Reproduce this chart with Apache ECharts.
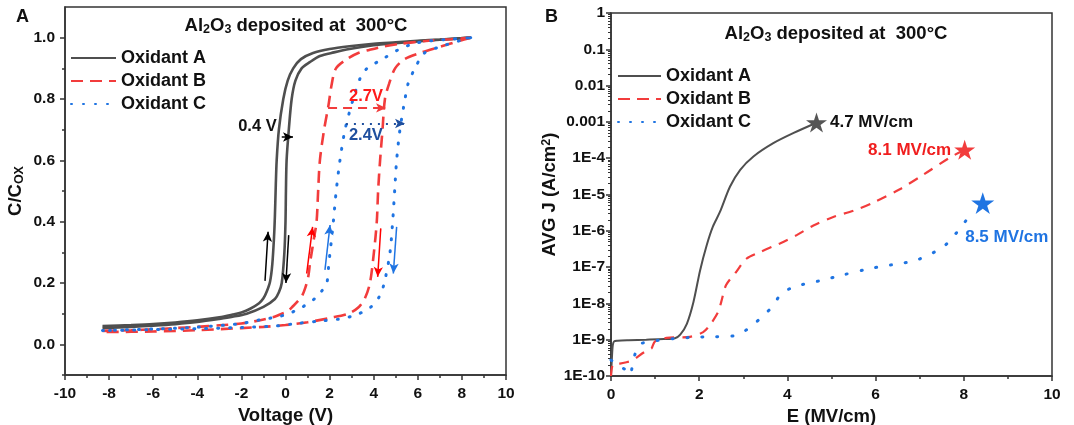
<!DOCTYPE html>
<html>
<head>
<meta charset="utf-8">
<script src="https://cdn.jsdelivr.net/npm/echarts@6/dist/echarts.min.js"></script>
<style>
  html, body { margin: 0; padding: 0; background: #fff; }
  #chart { width: 1074px; height: 425px; }
</style>
</head>
<body>
<div id="chart"></div>
<script>
// ---- panel A: C-V hysteresis, [voltage, C/Cox] ----
const oxA_up = [[-8.3,0.060],[-7,0.063],[-6,0.066],[-5,0.071],[-4,0.078],[-3,0.088],[-2.4,0.097],[-2,0.104],[-1.6,0.116],[-1.2,0.134],[-1.0,0.15],[-0.85,0.172],[-0.7,0.205],[-0.6,0.26],[-0.52,0.35],[-0.48,0.42],[-0.44,0.52],[-0.4,0.6],[-0.3,0.7],[-0.1,0.8],[0.1,0.86],[0.35,0.9],[0.7,0.93],[1.25,0.95],[2,0.963],[2.9,0.972],[4,0.98],[5,0.985],[6,0.99],[7,0.994],[8.4,1.0]];
const oxA_down = [[8.4,1.0],[7,0.993],[6,0.988],[5,0.982],[4,0.975],[2.9,0.963],[2.2,0.952],[1.56,0.94],[1.1,0.92],[0.73,0.9],[0.45,0.86],[0.28,0.8],[0.15,0.7],[0.05,0.6],[0.02,0.5],[0.0,0.4],[-0.05,0.3],[-0.17,0.2],[-0.3,0.17],[-0.48,0.148],[-1.0,0.122],[-1.76,0.1],[-2.4,0.09],[-3,0.083],[-4,0.073],[-5,0.066],[-6,0.061],[-7,0.057],[-8.3,0.053]];
const oxB_up = [[-8.3,0.044],[-7,0.046],[-6,0.049],[-5,0.053],[-4,0.057],[-3,0.062],[-2,0.068],[-1.2,0.078],[-0.5,0.09],[-0.17,0.1],[0.1,0.108],[0.35,0.125],[0.55,0.14],[0.73,0.155],[0.9,0.185],[1.03,0.22],[1.12,0.27],[1.19,0.3],[1.3,0.35],[1.41,0.4],[1.48,0.5],[1.56,0.6],[1.75,0.7],[1.95,0.78],[2.1,0.85],[2.29,0.9],[2.78,0.93],[3.3,0.95],[3.8,0.96],[4.5,0.972],[5.2,0.98],[6.5,0.99],[7.5,0.995],[8.4,1.0]];
const oxB_down = [[8.4,1.0],[7.9,0.99],[7,0.97],[6.1,0.95],[5.4,0.93],[4.97,0.9],[4.7,0.85],[4.51,0.8],[4.4,0.7],[4.29,0.6],[4.2,0.5],[4.14,0.4],[4.01,0.3],[3.83,0.2],[3.6,0.15],[3.3,0.12],[2.85,0.1],[2.0,0.086],[1.0,0.072],[0,0.063],[-1,0.057],[-2,0.053],[-4,0.046],[-6,0.042],[-8.3,0.04]];
const oxC_up = [[-8.3,0.045],[-6,0.05],[-4,0.056],[-2,0.068],[-1.16,0.08],[-0.5,0.088],[0.05,0.097],[0.4,0.108],[0.73,0.12],[1.05,0.135],[1.34,0.15],[1.6,0.17],[1.87,0.2],[1.95,0.25],[2.02,0.3],[2.1,0.35],[2.17,0.4],[2.3,0.5],[2.47,0.6],[2.7,0.7],[3.07,0.8],[3.4,0.87],[3.7,0.9],[4.4,0.93],[5.1,0.96],[5.8,0.98],[6.6,0.99],[7.5,0.995],[8.4,1.0]];
const oxC_down = [[8.4,1.0],[7.9,0.99],[7.0,0.97],[6.3,0.95],[5.87,0.9],[5.56,0.85],[5.42,0.8],[5.19,0.7],[5.04,0.6],[4.95,0.5],[4.86,0.4],[4.74,0.3],[4.51,0.21],[4.29,0.16],[3.83,0.119],[3.15,0.095],[2.4,0.082],[1.71,0.077],[0.5,0.068],[-0.4,0.06],[-2,0.055],[-4,0.051],[-6,0.048],[-8.3,0.045]];
const cTicks = [0, 0.2, 0.4, 0.6, 0.8, 1.0];
const cMinorTicks = [-0.1, 0.1, 0.3, 0.5, 0.7, 0.9];

// ---- panel B: leakage current, E (MV/cm) vs J (A/cm2) ----
const eA = [0, 0.02, 0.04, 0.07, 0.15, 0.4, 0.8, 1.2, 1.45, 1.57, 1.72, 1.87, 2.02, 2.17, 2.31, 2.47, 2.7, 2.93, 3.23, 3.68, 4.13, 4.66];
const jA = [1e-10, 3e-10, 7e-10, 9e-10, 9.4e-10, 9.7e-10, 1.0e-9, 1.04e-9, 1.1e-9, 1.38e-9, 2.75e-9, 1.1e-8, 8.1e-8, 4.0e-7, 1.3e-6, 3.3e-6, 1.66e-5, 4.8e-5, 1.12e-4, 2.6e-4, 4.9e-4, 9.5e-4];
const eB = [0, 0.05, 0.2, 0.35, 0.5, 0.58, 0.75, 0.88, 0.92, 1.0, 1.26, 1.79, 2.09, 2.24, 2.43, 2.5, 2.61, 2.84, 3.07, 3.38, 3.83, 4.21, 4.59, 5.04, 5.5, 5.95, 6.55, 7.08, 7.69, 8.02];
const jB = [1e-10, 2.1e-10, 2.2e-10, 2.4e-10, 2.7e-10, 3.2e-10, 4.5e-10, 5.5e-10, 5.8e-10, 9.0e-10, 1.12e-9, 1.2e-9, 1.62e-9, 2.5e-9, 5.8e-9, 1.1e-8, 3.2e-8, 7.4e-8, 1.7e-7, 2.6e-7, 4.5e-7, 7.6e-7, 1.4e-6, 2.4e-6, 3.6e-6, 6.0e-6, 1.4e-5, 3.5e-5, 1.05e-4, 1.7e-4];
const eC = [0, 0.15, 0.32, 0.43, 0.5, 0.62, 0.75, 0.88, 1.19, 1.41, 1.9, 2.31, 2.84, 3.16, 3.46, 3.69, 3.83, 4.13, 4.81, 5.19, 5.87, 6.55, 6.93, 7.53, 7.8, 8.03, 8.24];
const jC = [2.75e-10, 2.0e-10, 1.5e-10, 1.07e-10, 2.5e-10, 7.1e-10, 8.3e-10, 8.9e-10, 1.0e-9, 1.07e-9, 1.17e-9, 1.2e-9, 1.32e-9, 2.24e-9, 4.7e-9, 8.9e-9, 1.66e-8, 2.8e-8, 4.4e-8, 5.8e-8, 9.1e-8, 1.26e-7, 1.55e-7, 3.6e-7, 7.9e-7, 1.78e-6, 3.8e-6];
const starE = [4.66, 8.02, 8.43];
const starJ = [9.6e-4, 1.7e-4, 5.8e-6];
const starLabels = ['4.7 MV/cm', '8.1 MV/cm', '8.5 MV/cm'];
const jTicks = [1e-10, 1e-9, 1e-8, 1e-7, 1e-6, 1e-5, 1e-4, 1e-3, 1e-2, 1e-1, 1];
const jTickLabels = ['1E-10', '1E-9', '1E-8', '1E-7', '1E-6', '1E-5', '1E-4', '0.001', '0.01', '0.1', '1'];
// minor log ticks 2..9 inside every decade
const jMinorTicks = [];
jTicks.slice(0, -1).forEach(d => { for (let k = 2; k <= 9; k++) jMinorTicks.push(+(k * d).toPrecision(3)); });

const names = ['Oxidant A', 'Oxidant B', 'Oxidant C'];
const GRAY = '#4f4f4f', RED = '#f23c3c', BLUE = '#1f74e2', DARKBLUE = '#1f4f9e';
const STAR = 'path://M50,0 L61.8,36.2 L100,36.2 L69.1,58.8 L80.9,95.1 L50,72.6 L19.1,95.1 L30.9,58.8 L0,36.2 L38.2,36.2 Z';

const zip = (xs, ys) => xs.map((x, i) => [x, ys[i]]);
const axisColor = '#333';
const tickFont = { fontSize: 15.5, fontWeight: 'bold', color: '#111', fontFamily: 'Liberation Sans' };
const nameFont = { fontSize: 18.5, fontWeight: 'bold', color: '#111', fontFamily: 'Liberation Sans' };
const axisLine = { show: true, onZero: false, lineStyle: { color: axisColor, width: 1.5 } };

// arrow helper for annotations (markLine item from two data coordinates)
function arrow(from, to, color, type, width, label) {
  return [
    { coord: from, lineStyle: { color: color, type: type || 'solid', width: width || 1.5 },
      label: label || { show: false } },
    { coord: to }
  ];
}

const styleA = {
  'Oxidant A': { color: GRAY, width: 2.6, type: 'solid', cap: 'butt' },
  'Oxidant B': { color: RED, width: 2.6, type: [12, 7], cap: 'butt' },
  'Oxidant C': { color: BLUE, width: 3, type: [1, 11], cap: 'round' }
};
const styleB = {
  'Oxidant A': { color: GRAY, width: 2, type: 'solid', cap: 'butt' },
  'Oxidant B': { color: RED, width: 2.2, type: [10, 8], cap: 'butt' },
  'Oxidant C': { color: BLUE, width: 3, type: [1, 14], cap: 'round' }
};

const boldLab = (txt, color, pos, size) => ({
  show: true, formatter: txt, position: pos, color: color,
  fontSize: size || 15, fontWeight: 'bold', fontFamily: 'Liberation Sans', distance: 3
});

function lineA(name, data, markLines, markPoints) {
  const s = {
    name: name, type: 'line', xAxisIndex: 0, yAxisIndex: 0,
    data: data, showSymbol: false, symbol: 'none', smooth: 0.3,
    color: styleA[name].color,
    lineStyle: styleA[name], z: 2
  };
  if (markLines) {
    s.markLine = {
      silent: true, symbol: ['none', 'arrow'], symbolSize: [7, 10],
      label: { show: false }, data: markLines
    };
  }
  if (markPoints) {
    s.markPoint = {
      silent: true, symbol: 'circle', symbolSize: 1,
      itemStyle: { color: 'rgba(0,0,0,0)' }, data: markPoints
    };
  }
  return s;
}

const chart = echarts.init(document.getElementById('chart'));

const seriesB = [[eA, jA], [eB, jB], [eC, jC]].map(([e, j], i) => ({
  name: names[i], type: 'line', xAxisIndex: 1, yAxisIndex: 2,
  data: zip(e, j), showSymbol: false, symbol: 'none', smooth: 0.3,
  color: styleB[names[i]].color, lineStyle: styleB[names[i]],
  markPoint: {
    silent: true, symbol: STAR, symbolKeepAspect: true,
    symbolSize: i === 2 ? 23 : 21,
    itemStyle: { color: i === 0 ? '#555' : (i === 1 ? RED : BLUE) },
    data: [{
      coord: [starE[i], starJ[i]],
      label: i === 0 ? boldLab(starLabels[0], '#111', 'right', 17)
           : i === 1 ? boldLab(starLabels[1], '#f01e1e', 'left', 17)
           : Object.assign(boldLab(starLabels[2], BLUE, 'bottom', 17), { offset: [24, 12] })
    }]
  }
}));

const legendBase = {
  data: names, orient: 'vertical', itemHeight: 12, itemGap: 5, selectedMode: false,
  itemStyle: { opacity: 0, borderWidth: 0 },
  textStyle: { fontSize: 18, fontWeight: 'bold', color: '#111' }
};

const titleStyle = {
  fontSize: 18.5, fontWeight: 'bold', color: '#111',
  rich: { s: { fontSize: 12.5, fontWeight: 'bold', color: '#111', padding: [8, 0, 0, 0] } }
};

const option = {
  animation: false,
  textStyle: { fontFamily: 'Liberation Sans' },
  title: [
    { text: 'A', left: 11, top: 3, textStyle: { fontSize: 18, fontWeight: 'bold', color: '#111' } },
    { text: 'B', left: 540, top: 3, textStyle: { fontSize: 18, fontWeight: 'bold', color: '#111' } },
    { text: 'Al{s|2}O{s|3} deposited at  300°C', left: 291, top: 10, textAlign: 'center', textStyle: titleStyle },
    { text: 'Al{s|2}O{s|3} deposited at  300°C', left: 831, top: 18, textAlign: 'center', textStyle: titleStyle }
  ],
  legend: [
    Object.assign({ left: 65, top: 44, itemWidth: 45 }, legendBase),
    Object.assign({ left: 612, top: 62, itemWidth: 43 }, legendBase)
  ],
  grid: [
    { left: 65, top: 7, width: 441, height: 368, show: true, borderColor: axisColor, borderWidth: 1.5,
      outerBoundsMode: 'none' },
    { left: 611, top: 13, width: 441, height: 363, show: true, borderColor: axisColor, borderWidth: 1.5,
      outerBoundsMode: 'none' }
  ],
  xAxis: [
    { gridIndex: 0, type: 'value', min: -10, max: 10, interval: 2,
      name: 'Voltage (V)', nameLocation: 'middle', nameGap: 28, nameTextStyle: nameFont,
      axisLine: axisLine,
      axisTick: { length: 5, lineStyle: { color: axisColor, width: 1.5 } },
      minorTick: { show: true, splitNumber: 2, length: 3, lineStyle: { color: axisColor, width: 1.5 } },
      splitLine: { show: false }, axisLabel: Object.assign({ margin: 11 }, tickFont) },
    { gridIndex: 1, type: 'value', min: 0, max: 10, interval: 2,
      name: 'E (MV/cm)', nameLocation: 'middle', nameGap: 28, nameTextStyle: nameFont,
      axisLine: axisLine,
      axisTick: { length: 5, lineStyle: { color: axisColor, width: 1.5 } },
      minorTick: { show: true, splitNumber: 2, length: 3, lineStyle: { color: axisColor, width: 1.5 } },
      splitLine: { show: false }, axisLabel: Object.assign({ margin: 11 }, tickFont) }
  ],
  yAxis: [
    { gridIndex: 0, type: 'value', min: -0.1, max: 1.1, position: 'left',
      name: 'C/C{sub|OX}', nameLocation: 'middle', nameGap: 39,
      nameTextStyle: Object.assign({ rich: { sub: { fontSize: 12.5, fontWeight: 'bold', color: '#111', padding: [8, 0, 0, 0] } } }, nameFont),
      axisLine: axisLine,
      axisTick: { length: 5, customValues: cTicks, lineStyle: { color: axisColor, width: 1.5 } },
      splitLine: { show: false },
      axisLabel: Object.assign({ customValues: cTicks, margin: 10, formatter: v => v.toFixed(1) }, tickFont) },
    { gridIndex: 0, type: 'value', min: -0.1, max: 1.1, position: 'left', offset: 0,
      axisLine: { show: false, onZero: false },
      axisTick: { show: true, length: 3, customValues: cMinorTicks, lineStyle: { color: axisColor, width: 1.5 } },
      splitLine: { show: false }, axisLabel: { show: false } },
    { gridIndex: 1, type: 'log', logBase: 10, min: 1e-10, max: 1, position: 'left',
      name: 'AVG J (A/cm{sup|2})', nameLocation: 'middle', nameGap: 47,
      nameTextStyle: Object.assign({ rich: { sup: { fontSize: 12.5, fontWeight: 'bold', color: '#111', padding: [0, 0, 8, 0] } } }, nameFont),
      axisLine: axisLine,
      axisTick: { length: 5, customValues: jTicks, lineStyle: { color: axisColor, width: 1.5 } },
      splitLine: { show: false },
      axisLabel: Object.assign({ customValues: jTicks, margin: 6,
        formatter: v => jTickLabels[Math.round(Math.log10(v)) + 10] }, tickFont) },
    { gridIndex: 1, type: 'log', logBase: 10, min: 1e-10, max: 1, position: 'left', offset: 0,
      axisLine: { show: false, onZero: false },
      axisTick: { show: true, length: 3, customValues: jMinorTicks, lineStyle: { color: axisColor, width: 1 } },
      splitLine: { show: false }, axisLabel: { show: false } }
  ],
  series: [
    lineA('Oxidant A', oxA_up, [
      arrow([-0.17, 0.676], [0.34, 0.676], '#000'),
      arrow([-0.93, 0.207], [-0.79, 0.367], '#000'),
      arrow([0.145, 0.356], [0.02, 0.2], '#000')
    ], [
      { coord: [-0.33, 0.71], label: Object.assign(boldLab('0.4 V', '#111', 'left', 16.5), { distance: 1 }) }
    ]),
    lineA('Oxidant A', oxA_down),
    lineA('Oxidant B', oxB_up, [
      arrow([1.93, 0.771], [4.56, 0.771], RED, [9, 6], 2, boldLab('2.7V', '#ff1a1a', 'insideEndTop', 16.5)),
      arrow([0.96, 0.231], [1.23, 0.383], '#ff0000'),
      arrow([4.32, 0.378], [4.18, 0.22], '#ff0000')
    ]),
    lineA('Oxidant B', oxB_down),
    lineA('Oxidant C', oxC_up, [
      arrow([2.74, 0.72], [5.42, 0.72], DARKBLUE, [2, 6], 2, boldLab('2.4V', DARKBLUE, 'insideStartBottom', 16.5)),
      arrow([1.79, 0.243], [2.02, 0.389], BLUE),
      arrow([5.04, 0.383], [4.89, 0.231], BLUE)
    ]),
    lineA('Oxidant C', oxC_down)
  ].concat(seriesB)
};

chart.setOption(option);
</script>
</body>
</html>
